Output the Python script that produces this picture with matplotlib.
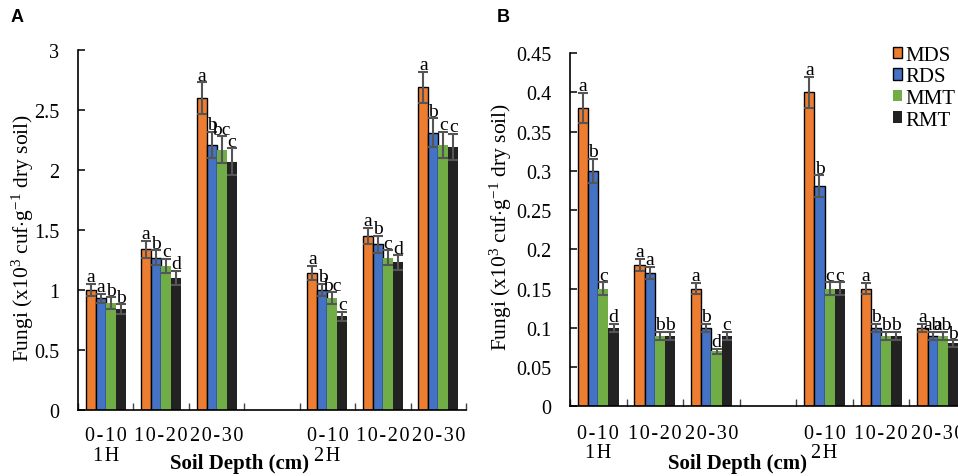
import matplotlib
matplotlib.use("Agg")
import matplotlib.pyplot as plt
from matplotlib.patches import Patch
import numpy as np

plt.rcParams['font.family'] = ['Liberation Serif', 'DejaVu Serif']
plt.rcParams['mathtext.fontset'] = 'custom'
plt.rcParams['mathtext.rm'] = 'Liberation Serif'
plt.rcParams['mathtext.it'] = 'Liberation Serif'

HS = '\u200a'
categories = ['0-10', '10-20', '20-30', '', '0-10', '10-20', '20-30']
harvests = ['1H', '2H']
series = ['MDS', 'RDS', 'MMT', 'RMT']
colors = ['#ED7D31', '#4472C4', '#70AD47', '#222222']
edges = ['black', 'black', 'none', 'none']

# Panel A values (per category; blank category = None)
A_vals = {
    'MDS': [1.00, 1.34, 2.60, None, 1.14, 1.45, 2.69],
    'RDS': [0.93, 1.27, 2.21, None, 1.00, 1.38, 2.31],
    'MMT': [0.89, 1.20, 2.17, None, 0.93, 1.27, 2.21],
    'RMT': [0.84, 1.10, 2.07, None, 0.78, 1.23, 2.19],
}
A_err = {
    'MDS': [0.05, 0.07, 0.13, None, 0.06, 0.07, 0.13],
    'RDS': [0.04, 0.06, 0.11, None, 0.05, 0.07, 0.12],
    'MMT': [0.05, 0.06, 0.11, None, 0.05, 0.06, 0.11],
    'RMT': [0.04, 0.06, 0.11, None, 0.04, 0.06, 0.11],
}
A_let = {
    'MDS': ['a', 'a', 'a', None, 'a', 'a', 'a'],
    'RDS': ['a', 'b', 'b', None, 'b', 'b', 'b'],
    'MMT': ['b', 'c', 'bc', None, 'bc', 'c', 'c'],
    'RMT': ['b', 'd', 'c', None, 'c', 'd', 'c'],
}

# Panel B values
B_vals = {
    'MDS': [0.38, 0.18, 0.15, None, 0.40, 0.15, 0.10],
    'RDS': [0.30, 0.17, 0.10, None, 0.28, 0.10, 0.09],
    'MMT': [0.15, 0.09, 0.07, None, 0.15, 0.09, 0.09],
    'RMT': [0.10, 0.09, 0.09, None, 0.15, 0.09, 0.08],
}
B_err = {
    'MDS': [0.019, 0.008, 0.007, None, 0.020, 0.007, 0.005],
    'RDS': [0.015, 0.008, 0.005, None, 0.014, 0.005, 0.005],
    'MMT': [0.008, 0.005, 0.003, None, 0.008, 0.005, 0.005],
    'RMT': [0.005, 0.005, 0.005, None, 0.008, 0.005, 0.004],
}
B_let = {
    'MDS': ['a', 'a', 'a', None, 'a', 'a', 'a'],
    'RDS': ['b', 'a', 'b', None, 'b', 'b', 'ab'],
    'MMT': ['c', 'b', 'd', None, 'c', 'b', 'ab'],
    'RMT': ['d', 'b', 'c', None, 'c', 'b', 'b'],
}

A_ticks = [0, 0.5, 1, 1.5, 2, 2.5, 3]
B_ticks = [0, 0.05, 0.1, 0.15, 0.2, 0.25, 0.3, 0.35, 0.4, 0.45]

fig = plt.figure(figsize=(9.58, 4.77), dpi=100)

def spaced(s):
    return HS.join(list(s))

def draw(ax, vals, errs, lets, yticks, ylab_x, ylab_y, xlab_x, hpad):
    x = np.arange(len(categories))
    w = 0.18
    for i, s in enumerate(series):
        idx = [j for j, v in enumerate(vals[s]) if v is not None]
        xs = x[idx] + (i - 1.5) * w
        v = np.array([vals[s][j] for j in idx])
        e = np.array([errs[s][j] for j in idx])
        ax.bar(xs, v, w, color=colors[i], edgecolor=edges[i], linewidth=1.0,
               yerr=e, error_kw=dict(ecolor='#555555', elinewidth=1.5,
                                      capsize=3.6, capthick=1.5), zorder=2)
        for xx, vv, ee, j in zip(xs, v, e, idx):
            ax.annotate(lets[s][j], (xx, vv + ee), xytext=(0, -1.0),
                        textcoords='offset points', ha='center', va='bottom',
                        fontsize=14, zorder=3)
    ax.set_xlim(-0.5, len(categories) - 0.5)
    ax.set_ylim(yticks[0], yticks[-1])
    ax.set_yticks(yticks)
    ax.set_yticklabels(['%g' % t for t in yticks])
    ax.set_xticks(x)
    ax.set_xticklabels([spaced(c) for c in categories])
    ax.set_xticks(np.arange(len(categories) + 1) - 0.5, minor=True)
    ax.tick_params(axis='x', which='major', length=0, pad=hpad, labelsize=14.5)
    ax.tick_params(axis='x', which='minor', direction='in', length=5, width=1, color='#444444')
    ax.tick_params(axis='y', direction='in', length=5, width=1.1, pad=13.5, labelsize=14.5)
    for sp in ['top', 'right']:
        ax.spines[sp].set_visible(False)
    for sp in ['left', 'bottom']:
        ax.spines[sp].set_linewidth(1.2)
    for k, h in enumerate(harvests):
        ax.annotate(spaced(h), (x[0] + 4 * k, 0), xycoords=('data', 'axes fraction'),
                    xytext=(0, -33), textcoords='offset points', ha='center', va='center',
                    fontsize=14.5)
    fig.text(ylab_x, ylab_y, 'Fungi (x10$^{3}$ cuf$\\cdot$g$^{-1}$ dry soil)', rotation=90,
             ha='center', va='center', fontsize=15.5)
    fig.text(xlab_x, 0.027, 'Soil Depth (cm)', ha='center', va='center',
             fontsize=15, fontweight='bold')

axA = fig.add_axes([78 / 958, 1 - 411 / 477, 388 / 958, 360 / 477])
draw(axA, A_vals, A_err, A_let, A_ticks, 23 / 958, 1 - 238 / 477, 240 / 958, 11.5)

axB = fig.add_axes([570 / 958, 1 - 407.3 / 477, 396 / 958, 353.3 / 477])
draw(axB, B_vals, B_err, B_let, B_ticks, 501 / 958, 1 - 227 / 477, 738 / 958, 12.5)

fig.text(17 / 958, 1 - 18 / 477, 'A', family='Liberation Sans', fontweight='bold',
         fontsize=13, ha='center', va='center')
fig.text(503 / 958, 1 - 17 / 477, 'B', family='Liberation Sans', fontweight='bold',
         fontsize=13, ha='center', va='center')

handles = [Patch(facecolor=colors[i], edgecolor=edges[i], linewidth=1.0) for i in range(4)]
fig.legend(handles, series, loc='upper left', bbox_to_anchor=(893 / 958, 1 - 47 / 477),
           frameon=False, borderpad=0, handlelength=0.45, handleheight=0.45,
           handletextpad=0.15, labelspacing=0.12, fontsize=15, borderaxespad=0)

fig.savefig('out.png', dpi=100)
